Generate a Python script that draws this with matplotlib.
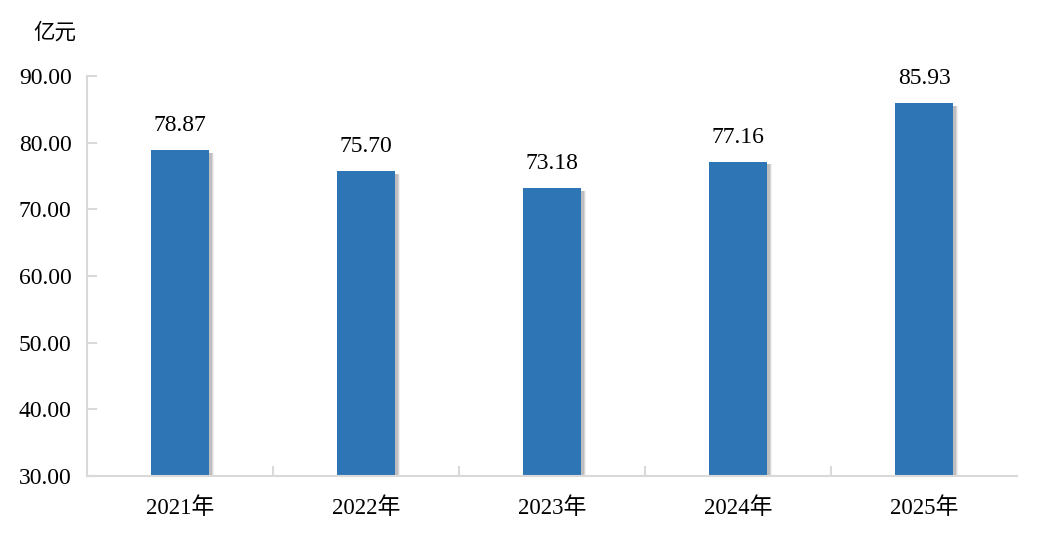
import matplotlib.pyplot as plt

# data
years = ['2021年', '2022年', '2023年', '2024年', '2025年']
values = [78.87, 75.70, 73.18, 77.16, 85.93]
y_ticks = [30, 40, 50, 60, 70, 80, 90]

num_font = ['Liberation Serif', 'Noto Sans CJK SC']
axis_color = '#d9d9d9'
bar_color = '#2e75b6'

fig = plt.figure(figsize=(10.46, 5.47), dpi=100)
ax = fig.add_axes([0.0832, 0.1298, 0.8891, 0.7312])

x = list(range(len(years)))
bar_w = 0.31

# soft grey shadow to the right of each bar
for off, a in [(0.030, 0.2), (0.024, 0.4), (0.018, 0.7)]:
    ax.bar([i + off for i in x], [v - 30.4 for v in values], width=bar_w, bottom=30,
           color='#b4b4b4', alpha=a, linewidth=0, zorder=1)
ax.bar(x, [v - 30 for v in values], width=bar_w, bottom=30, color=bar_color,
       linewidth=0, zorder=2)

for i, v in zip(x, values):
    ax.annotate(f"{v:.2f}", (i, v), xytext=(0, 10), textcoords='offset points',
                ha='center', va='bottom', fontsize=17, family=num_font)

ax.set_xlim(-0.5, len(years) - 0.5)
ax.set_ylim(30, 90)
ax.set_yticks(y_ticks)
ax.set_yticklabels([f"{t:.2f}" for t in y_ticks], family=num_font, fontsize=17)

# category labels at centres, tick marks between categories
ax.set_xticks([i + 0.5 for i in x[:-1]])
ax.set_xticklabels([])
ax.set_xticks(x, minor=True)
ax.set_xticklabels(years, minor=True, family=num_font, fontsize=16.5)
ax.tick_params(axis='x', which='minor', length=0, pad=15)
ax.tick_params(axis='x', which='major', direction='in', length=7, width=1.5, color=axis_color)
ax.tick_params(axis='y', direction='in', length=7, width=1.5, color=axis_color, pad=11)

for side in ['top', 'right']:
    ax.spines[side].set_visible(False)
for side in ['left', 'bottom']:
    ax.spines[side].set_color(axis_color)
    ax.spines[side].set_linewidth(1.5)

fig.text(0.052, 0.94, '亿元', ha='center', va='center', fontsize=15.5,
         family=['Noto Sans CJK SC', 'DejaVu Sans'])

fig.savefig('out.png', dpi=100)
